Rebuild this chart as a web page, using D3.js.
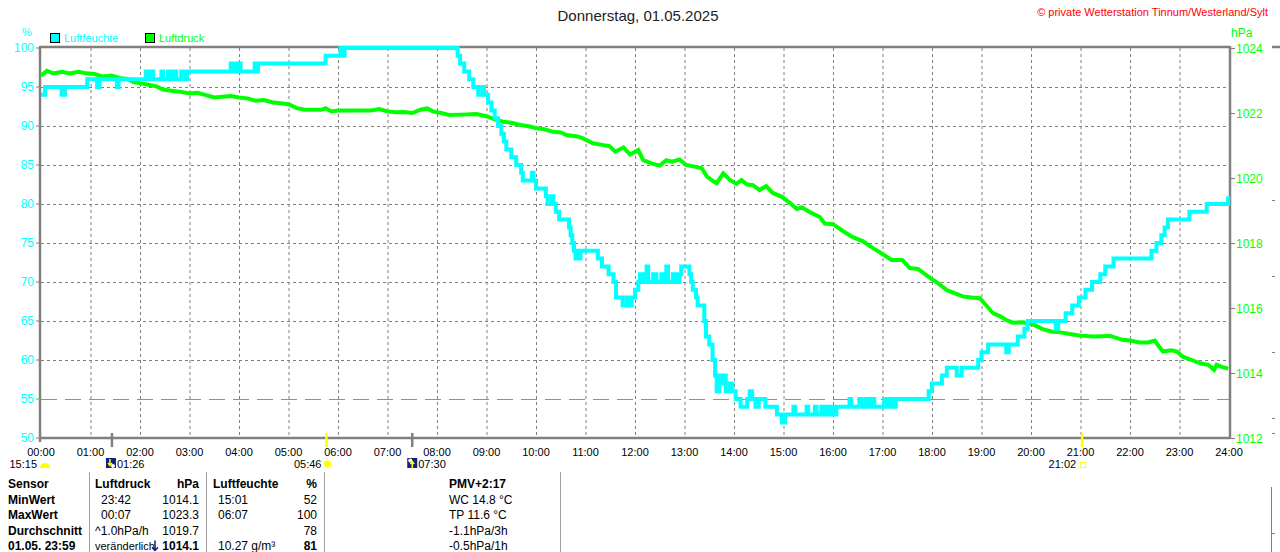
<!DOCTYPE html>
<html>
<head>
<meta charset="utf-8">
<script src="https://cdn.jsdelivr.net/npm/d3@7"></script>
<style>
  body { margin: 0; background: #fff; }
  svg { display: block; font-family: "Liberation Sans", Arial, sans-serif; }
</style>
</head>
<body>
<div id="chart"></div>
<script>
// Luftfeuchte (%) - Stufenwerte [Uhrzeit, Wert]
const humidity = [
  ["00:00",94],["00:05",95],["00:25",94],["00:29",95],["00:56",96],["01:08",95],["01:11",96],
  ["01:32",95],["01:34",96],["02:07",97],["02:10",96],["02:13",97],["02:16",96],["02:26",97],
  ["02:28",96],["02:34",97],["02:38",96],["02:40",97],["02:44",96],["02:50",97],["02:55",96],
  ["02:57",97],["03:50",98],["03:53",97],["03:55",98],["03:58",97],["04:00",98],["04:02",97],
  ["04:19",98],["04:21",97],["04:23",98],["05:45",99],["06:03",100],["06:06",99],["06:08",100],
  ["08:25",99],["08:28",98],["08:33",97],["08:39",96],["08:44",95],["08:50",94],["08:55",95],
  ["08:57",94],["09:02",93],["09:06",92],["09:10",91],["09:14",90],["09:18",89],["09:21",88],
  ["09:24",87],["09:30",86],["09:36",85],["09:42",84],["09:44",83],["09:55",84],["09:57",83],
  ["10:00",82],["10:12",81],["10:14",80],["10:19",81],["10:21",80],["10:24",79],["10:28",78],
  ["10:40",77],["10:42",76],["10:44",75],["10:46",74],["10:48",73],["10:50",74],["10:52",73],
  ["10:54",74],["11:15",73],["11:20",72],["11:28",71],["11:34",70],["11:37",68],["11:45",67],
  ["11:50",68],["11:52",67],["11:56",68],["12:00",69],["12:04",70],["12:06",71],["12:10",70],
  ["12:14",72],["12:16",70],["12:22",71],["12:26",70],["12:32",71],["12:36",70],["12:38",72],
  ["12:40",70],["12:46",71],["12:50",70],["12:54",71],["12:56",72],["13:06",71],["13:08",70],
  ["13:10",69],["13:14",68],["13:16",67],["13:24",65],["13:26",63],["13:30",62],["13:34",60],
  ["13:37",58],["13:39",56],["13:42",58],["13:44",57],["13:48",58],["13:50",56],["13:54",57],
  ["13:58",56],["14:02",55],["14:08",54],["14:16",55],["14:19",56],["14:22",55],["14:26",54],
  ["14:30",55],["14:38",54],["14:52",53],["14:58",52],["15:02",53],["15:12",54],["15:14",53],
  ["15:28",54],["15:30",53],["15:38",54],["15:40",53],["15:46",54],["15:48",53],["15:52",54],
  ["15:54",53],["15:58",54],["16:00",53],["16:04",54],["16:20",55],["16:22",54],["16:32",55],
  ["16:35",54],["16:40",55],["16:44",54],["16:48",55],["16:50",54],["17:02",55],["17:06",54],
  ["17:08",55],["17:12",54],["17:16",55],["17:56",56],["18:00",57],["18:12",58],["18:18",59],
  ["18:30",58],["18:36",59],["18:56",60],["19:00",61],["19:08",62],["19:30",61],["19:33",62],
  ["19:44",63],["19:52",64],["19:56",65],["20:30",64],["20:33",65],["20:42",66],["20:50",67],
  ["20:58",68],["21:06",69],["21:14",70],["21:24",71],["21:30",72],["21:40",73],["22:26",74],
  ["22:32",75],["22:38",76],["22:42",77],["22:46",78],["23:12",79],["23:33",80],["23:59",81]
];

// Luftdruck (hPa) [Uhrzeit, Wert]
const pressure = [
  ["00:00",1023.15],["00:05",1023.25],["00:07",1023.3],["00:15",1023.22],["00:25",1023.27],
  ["00:35",1023.22],["00:45",1023.27],["00:55",1023.22],["01:05",1023.2],["01:15",1023.12],
  ["01:25",1023.15],["01:35",1023.08],["01:45",1023.05],["01:52",1022.95],["02:00",1022.92],
  ["02:10",1022.87],["02:20",1022.82],["02:28",1022.72],["02:40",1022.68],["02:50",1022.65],
  ["03:00",1022.6],["03:10",1022.62],["03:20",1022.55],["03:30",1022.48],["03:40",1022.5],
  ["03:50",1022.52],["04:00",1022.48],["04:10",1022.45],["04:20",1022.38],["04:30",1022.4],
  ["04:40",1022.33],["04:50",1022.3],["05:00",1022.27],["05:10",1022.15],["05:20",1022.1],
  ["05:40",1022.1],["05:45",1022.15],["05:52",1022.05],["06:00",1022.08],["06:20",1022.08],
  ["06:40",1022.08],["06:50",1022.12],["07:00",1022.05],["07:10",1022.02],["07:20",1022.03],
  ["07:30",1022.0],["07:40",1022.1],["07:48",1022.14],["07:55",1022.05],["08:05",1022.0],
  ["08:15",1021.94],["08:30",1021.95],["08:48",1021.97],["09:00",1021.9],["09:06",1021.84],
  ["09:20",1021.73],["09:30",1021.7],["09:41",1021.63],["09:50",1021.6],["10:01",1021.53],
  ["10:10",1021.5],["10:21",1021.42],["10:30",1021.4],["10:37",1021.32],["10:50",1021.28],
  ["10:57",1021.22],["11:09",1021.07],["11:20",1021.02],["11:29",1020.98],["11:36",1020.81],
  ["11:46",1020.94],["11:54",1020.72],["12:04",1020.86],["12:10",1020.55],["12:20",1020.45],
  ["12:30",1020.38],["12:38",1020.55],["12:45",1020.5],["12:54",1020.57],["13:02",1020.4],
  ["13:12",1020.35],["13:21",1020.3],["13:27",1020.05],["13:35",1019.9],["13:39",1019.84],
  ["13:47",1020.14],["13:55",1019.94],["14:03",1019.82],["14:09",1019.94],["14:16",1019.8],
  ["14:23",1019.78],["14:31",1019.63],["14:39",1019.75],["14:47",1019.54],["14:58",1019.42],
  ["15:08",1019.23],["15:16",1019.05],["15:22",1019.1],["15:32",1018.95],["15:44",1018.8],
  ["15:50",1018.6],["16:00",1018.58],["16:12",1018.37],["16:24",1018.18],["16:36",1018.06],
  ["16:48",1017.85],["17:00",1017.66],["17:11",1017.48],["17:24",1017.48],["17:33",1017.23],
  ["17:43",1017.2],["17:58",1016.92],["18:08",1016.75],["18:18",1016.55],["18:28",1016.45],
  ["18:38",1016.35],["18:48",1016.32],["18:58",1016.3],["19:05",1016.1],["19:14",1015.84],
  ["19:22",1015.75],["19:30",1015.63],["19:38",1015.55],["19:50",1015.56],["20:02",1015.5],
  ["20:14",1015.35],["20:26",1015.27],["20:36",1015.25],["20:47",1015.2],["21:00",1015.15],
  ["21:15",1015.12],["21:36",1015.14],["21:51",1015.02],["22:00",1015.0],["22:12",1014.94],
  ["22:22",1014.94],["22:30",1015.0],["22:34",1014.85],["22:40",1014.66],["22:50",1014.7],
  ["22:57",1014.66],["23:04",1014.5],["23:15",1014.4],["23:25",1014.3],["23:35",1014.25],
  ["23:42",1014.1],["23:45",1014.25],["23:52",1014.18],["23:59",1014.14]
];

const hourTicks = d3.range(0, 25);
const humTicks = [50, 55, 60, 65, 70, 75, 80, 85, 90, 95, 100];
const presTicks = [1012, 1014, 1016, 1018, 1020, 1022, 1024];
const humLimit = 55;

// Mond / Sonne Auf- und Untergang
const markers = [
  { time: "01:26", kind: "moon", color: "#808080" },
  { time: "05:46", kind: "sunrise", color: "#ffff00" },
  { time: "07:30", kind: "moon2", color: "#808080" },
  { time: "21:02", kind: "sunset", color: "#ffff00" }
];

// Tabelle unter dem Diagramm
const tableCol1 = ["Sensor", "MinWert", "MaxWert", "Durchschnitt", "01.05. 23:59"];
const tablePresTime = ["Luftdruck", "23:42", "00:07", "^1.0hPa/h", "veränderlich"];
const tablePresVal = ["hPa", "1014.1", "1023.3", "1019.7", "1014.1"];
const tableHumTime = ["Luftfeuchte", "15:01", "06:07", "", "10.27 g/m³"];
const tableHumVal = ["%", "52", "100", "78", "81"];
const tableExtra = ["PMV+2:17", "WC 14.8 °C", "TP 11.6 °C", "-1.1hPa/3h", "-0.5hPa/1h"];

const W = 1280, H = 552;
const plot = { left: 41, right: 1229, top: 48, bottom: 438 };

const toHours = (s) => { const [h, m] = s.split(":").map(Number); return h + m / 60; };

const x = d3.scaleLinear().domain([0, 24]).range([plot.left, plot.right]);
const yH = d3.scaleLinear().domain([50, 100]).range([plot.bottom, plot.top]);
const yP = d3.scaleLinear().domain([1012, 1024]).range([plot.bottom, plot.top]);

const svg = d3.select("#chart").append("svg")
  .attr("width", W).attr("height", H);

// Titel
svg.append("text").attr("x", 638).attr("y", 21).attr("text-anchor", "middle")
  .attr("font-size", 15).attr("fill", "#222").text("Donnerstag, 01.05.2025");
svg.append("text").attr("x", 1268).attr("y", 16).attr("text-anchor", "end")
  .attr("font-size", 11).attr("fill", "#ff0000")
  .text("© private Wetterstation Tinnum/Westerland/Sylt");

// Legende
const legend = [
  { label: "Luftfeuchte", color: "#00ffff", x: 50 },
  { label: "Luftdruck", color: "#00ff00", x: 145 }
];
legend.forEach((d) => {
  svg.append("rect").attr("x", d.x + 0.5).attr("y", 33.5).attr("width", 9).attr("height", 9)
    .attr("fill", d.color).attr("stroke", "#000");
  svg.append("text").attr("x", d.x + 14).attr("y", 42).attr("font-size", 11)
    .attr("fill", d.color).text(d.label);
});
svg.append("text").attr("x", 27).attr("y", 36).attr("text-anchor", "middle")
  .attr("font-size", 11).attr("fill", "#00ffff").text("%");
svg.append("text").attr("x", 1231).attr("y", 37)
  .attr("font-size", 12).attr("fill", "#00ff00").text("hPa");

// Gitter
const grid = svg.append("g");
grid.selectAll(".vgrid").data(hourTicks.slice(1, 24)).enter().append("line")
  .attr("x1", (d) => x(d) + 0.5).attr("x2", (d) => x(d) + 0.5)
  .attr("y1", plot.top).attr("y2", plot.bottom)
  .attr("stroke", "#808080").attr("stroke-dasharray", "3,3");
grid.selectAll(".hgrid").data(humTicks.filter((d) => d > 55 && d < 100)).enter().append("line")
  .attr("x1", plot.left).attr("x2", plot.right)
  .attr("y1", (d) => yH(d) + 0.5).attr("y2", (d) => yH(d) + 0.5)
  .attr("stroke", "#808080").attr("stroke-dasharray", "3,3");
grid.append("line")
  .attr("x1", plot.left).attr("x2", plot.right)
  .attr("y1", yH(humLimit) + 0.5).attr("y2", yH(humLimit) + 0.5)
  .attr("stroke", "#22dd22").attr("stroke-width", 1.2).attr("stroke-dasharray", "16,8");

// Achsen / Rahmen
const frame = svg.append("g").attr("stroke", "#808080").attr("stroke-width", 2.5);
frame.append("line").attr("x1", plot.left - 1).attr("x2", plot.right + 1)
  .attr("y1", plot.top - 1).attr("y2", plot.top - 1);
frame.append("line").attr("x1", plot.left - 1).attr("x2", plot.right + 1)
  .attr("y1", plot.bottom).attr("y2", plot.bottom);
frame.append("line").attr("x1", plot.left - 1).attr("x2", plot.left - 1)
  .attr("y1", plot.top - 2).attr("y2", plot.bottom + 4);
frame.append("line").attr("x1", plot.right + 1).attr("x2", plot.right + 1)
  .attr("y1", plot.top - 2).attr("y2", plot.bottom + 1);

// linke Achse (%)
const leftAxis = svg.append("g");
leftAxis.selectAll("line").data(humTicks).enter().append("line")
  .attr("x1", 36).attr("x2", 40).attr("y1", (d) => yH(d)).attr("y2", (d) => yH(d))
  .attr("stroke", (d) => (d === humLimit ? "#22dd22" : "#808080"));
leftAxis.selectAll("text").data(humTicks).enter().append("text")
  .attr("x", 34).attr("y", (d) => yH(d) + 4).attr("text-anchor", "end")
  .attr("font-size", 12).attr("fill", "#00ffff").text((d) => d);

// rechte Achse (hPa)
const rightAxis = svg.append("g");
rightAxis.selectAll("line").data(presTicks).enter().append("line")
  .attr("x1", plot.right + 2).attr("x2", plot.right + 6)
  .attr("y1", (d) => yP(d) + 0.5).attr("y2", (d) => yP(d) + 0.5).attr("stroke", "#808080");
rightAxis.selectAll("text").data(presTicks).enter().append("text")
  .attr("x", plot.right + 7).attr("y", (d) => yP(d) + 5)
  .attr("font-size", 12).attr("fill", "#00ff00").text((d) => d);

// x-Achse
svg.append("g").selectAll("text").data(hourTicks).enter().append("text")
  .attr("x", (d) => x(d)).attr("y", 456).attr("text-anchor", "middle")
  .attr("font-size", 11).attr("fill", "#000")
  .text((d) => d3.format("02")(d) + ":00");

// Kurven
const line = (yScale, curve) => d3.line()
  .x((d) => x(toHours(d[0])))
  .y((d) => yScale(d[1]))
  .curve(curve);

svg.append("path").datum(pressure)
  .attr("d", line(yP, d3.curveLinear))
  .attr("fill", "none").attr("stroke", "#00ff00").attr("stroke-width", 4)
  .attr("stroke-linejoin", "miter");

svg.append("path").datum(humidity)
  .attr("d", line(yH, d3.curveStepAfter))
  .attr("fill", "none").attr("stroke", "#00ffff").attr("stroke-width", 4)
  .attr("stroke-linejoin", "miter");

// Markierungen Sonne / Mond
svg.append("g").selectAll("line").data(markers).enter().append("line")
  .attr("x1", (d) => x(toHours(d.time))).attr("x2", (d) => x(toHours(d.time)))
  .attr("y1", 433).attr("y2", 447)
  .attr("stroke", (d) => d.color).attr("stroke-width", 2.5);

const iconRow = svg.append("g").attr("font-size", 11).attr("fill", "#000");
const iconY = 468;
// 15:15 Mond
iconRow.append("text").attr("x", 37).attr("y", iconY).attr("text-anchor", "end").text("15:15");
iconRow.append("path").attr("d", "M40,468 A5,5 0 0 1 50,468 Z").attr("fill", "#ffff00");

function moonIcon(cx, up) {
  const g = iconRow.append("g").attr("transform", `translate(${cx},458)`);
  g.append("rect").attr("width", 10).attr("height", 10).attr("fill", "#14207a");
  g.append("circle").attr("cx", up ? 3 : 7).attr("cy", up ? 2.5 : 8).attr("r", 2).attr("fill", "#fff");
  g.append("path").attr("d", up ? "M5,10 L5,4 M3,6 L5,3.5 L7,6" : "M4,1 L4,7 M2,5 L4,7.5 L6,5")
    .attr("stroke", "#ffff00").attr("stroke-width", 1.5).attr("fill", "none");
}
markers.forEach((d) => {
  const px = x(toHours(d.time));
  if (d.kind === "moon") {
    moonIcon(px - 6, false);
    iconRow.append("text").attr("x", px + 5).attr("y", iconY).text(d.time);
  } else if (d.kind === "moon2") {
    moonIcon(px - 5, true);
    iconRow.append("text").attr("x", px + 6).attr("y", iconY).text(d.time);
  } else if (d.kind === "sunrise") {
    iconRow.append("text").attr("x", px - 5).attr("y", iconY).attr("text-anchor", "end").text(d.time);
    const s = iconRow.append("g").attr("transform", `translate(${px + 1},464)`);
    s.append("circle").attr("r", 3.5).attr("fill", "#ffff00");
    s.append("circle").attr("r", 5.5).attr("fill", "none").attr("stroke", "#ffff66")
      .attr("stroke-dasharray", "1.5,1.5");
  } else {
    iconRow.append("text").attr("x", px - 6).attr("y", iconY).attr("text-anchor", "end").text(d.time);
    iconRow.append("rect").attr("x", px - 1.5).attr("y", 462.5).attr("width", 5).attr("height", 5)
      .attr("fill", "none").attr("stroke", "#ffff00");
  }
});

// Tabelle
const table = svg.append("g").attr("font-size", 12).attr("fill", "#000");
const rowY = (i) => 488 + i * 15.6;
[89, 206, 324, 560].forEach((cx) => {
  table.append("line").attr("x1", cx + 0.5).attr("x2", cx + 0.5).attr("y1", 472).attr("y2", H)
    .attr("stroke", "#a0a0a0");
});
const bold = (i, boldAll) => (i === 0 || boldAll ? "bold" : "normal");
tableCol1.forEach((t, i) => table.append("text").attr("x", 8).attr("y", rowY(i))
  .attr("font-weight", "bold").text(t));
tablePresTime.forEach((t, i) => table.append("text").attr("x", i === 0 ? 95 : (i < 3 ? 101 : 95))
  .attr("y", rowY(i)).attr("font-weight", bold(i)).attr("font-size", i === 4 ? 11 : 12).text(t));
tablePresVal.forEach((t, i) => table.append("text").attr("x", 199).attr("y", rowY(i))
  .attr("text-anchor", "end").attr("font-weight", bold(i, i === 4)).text(t));
tableHumTime.forEach((t, i) => table.append("text").attr("x", i === 0 ? 213 : 218)
  .attr("y", rowY(i)).attr("font-weight", bold(i)).text(t));
tableHumVal.forEach((t, i) => table.append("text").attr("x", 317).attr("y", rowY(i))
  .attr("text-anchor", "end").attr("font-weight", bold(i, i === 4)).text(t));
tableExtra.forEach((t, i) => table.append("text").attr("x", 449).attr("y", rowY(i))
  .attr("font-weight", bold(i)).text(t));
// Tendenzpfeil
table.append("path").attr("d", `M155,${rowY(4) - 10} L155,${rowY(4)} M152,${rowY(4) - 3} L155,${rowY(4)} L158,${rowY(4) - 3}`)
  .attr("stroke", "#14207a").attr("stroke-width", 1.5).attr("fill", "none");

// Rand des Nachbardiagramms rechts
const edge = svg.append("g").attr("stroke", "#808080");
edge.append("line").attr("x1", 1272).attr("x2", W).attr("y1", 47).attr("y2", 47).attr("stroke-width", 2.5);
edge.append("line").attr("x1", 1271.5).attr("x2", 1271.5).attr("y1", 487).attr("y2", H);
[200, 276, 352, 418, 433, 533].forEach((yy) => {
  edge.append("line").attr("x1", 1272).attr("x2", 1275).attr("y1", yy + 0.5).attr("y2", yy + 0.5);
});
</script>
</body>
</html>
